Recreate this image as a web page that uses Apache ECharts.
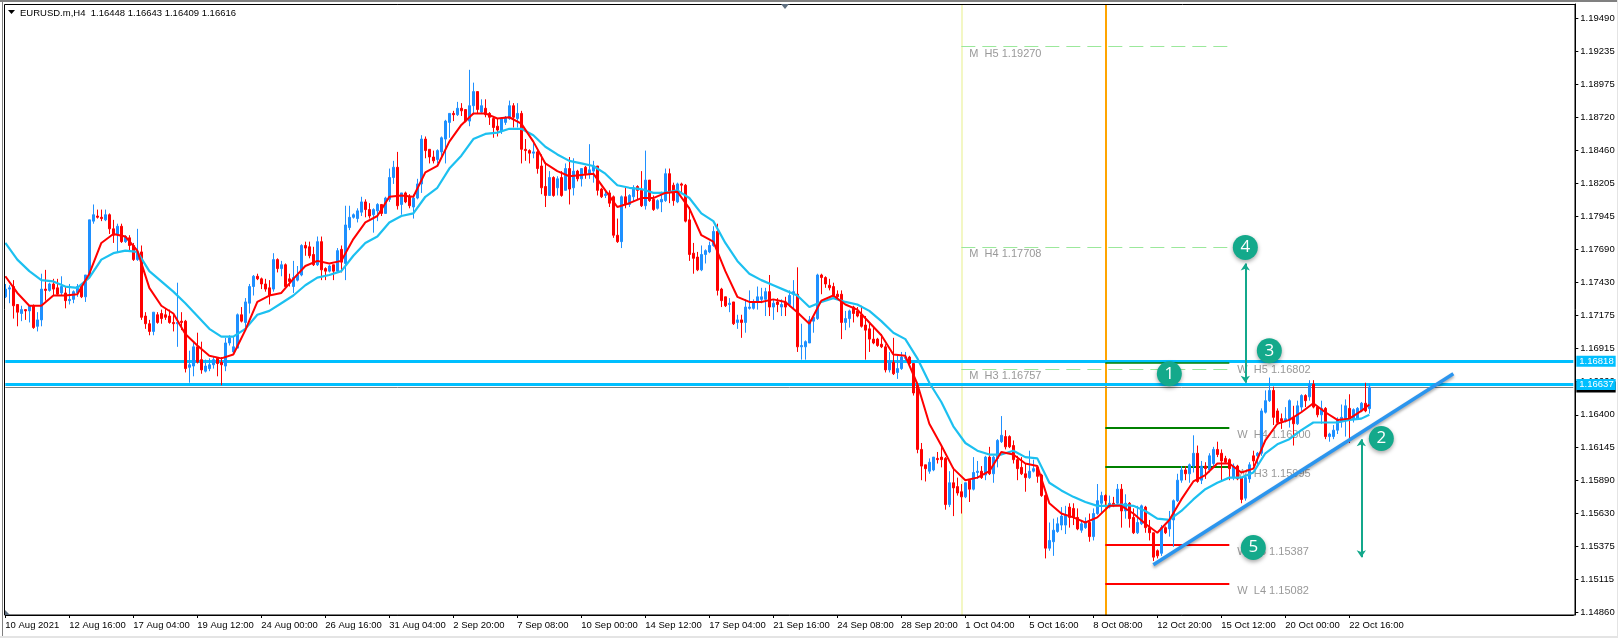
<!DOCTYPE html>
<html><head><meta charset="utf-8">
<style>html,body{margin:0;padding:0;background:#fff}#c{width:1618px;height:638px}</style>
<script src="https://cdn.jsdelivr.net/npm/echarts@6/dist/echarts.min.js"></script>
</head><body><div id="c"></div>
<script>
const opens=[1.1732,1.1738,1.1740,1.1726,1.1719,1.1722,1.1721,1.1725,1.1709,1.1714,
1.1738,1.1737,1.1742,1.1739,1.1735,1.1735,1.1729,1.1730,1.1735,1.1741,
1.1732,1.1749,1.1791,1.1795,1.1794,1.1792,1.1796,1.1785,1.1781,1.1787,
1.1775,1.1778,1.1772,1.1761,1.1767,1.1717,1.1711,1.1705,1.1718,1.1719,
1.1718,1.1717,1.1712,1.1711,1.1713,1.1713,1.1677,1.1678,1.1693,1.1683,
1.1674,1.1676,1.1679,1.1684,1.1681,1.1678,1.1696,1.1689,1.1692,1.1718,
1.1712,1.1727,1.1740,1.1748,1.1746,1.1742,1.1739,1.1738,1.1761,1.1754,
1.1757,1.1746,1.1740,1.1745,1.1749,1.1772,1.1771,1.1765,1.1757,1.1775,
1.1754,1.1752,1.1757,1.1752,1.1769,1.1758,1.1786,1.1794,1.1793,1.1798,
1.1806,1.1800,1.1796,1.1799,1.1804,1.1797,1.1808,1.1825,1.1833,1.1804,
1.1813,1.1810,1.1802,1.1809,1.1820,1.1855,1.1847,1.1841,1.1839,1.1845,
1.1855,1.1868,1.1875,1.1874,1.1879,1.1878,1.1869,1.1881,1.1892,1.1876,
1.1879,1.1875,1.1871,1.1865,1.1861,1.1868,1.1871,1.1881,1.1871,1.1875,
1.1847,1.1846,1.1844,1.1845,1.1834,1.1818,1.1811,1.1825,1.1817,1.1825,
1.1815,1.1832,1.1817,1.1830,1.1824,1.1833,1.1828,1.1830,1.1834,1.1816,
1.1811,1.1813,1.1810,1.1780,1.1775,1.1810,1.1804,1.1810,1.1818,1.1815,
1.1803,1.1823,1.1808,1.1801,1.1806,1.1807,1.1828,1.1819,1.1806,1.1820,
1.1819,1.1792,1.1766,1.1763,1.1753,1.1765,1.1767,1.1772,1.1783,1.1738,
1.1732,1.1726,1.1728,1.1712,1.1714,1.1712,1.1723,1.1723,1.1728,1.1730,
1.1730,1.1736,1.1724,1.1728,1.1724,1.1728,1.1726,1.1734,1.1734,1.1693,
1.1693,1.1696,1.1713,1.1715,1.1749,1.1747,1.1741,1.1740,1.1734,1.1734,
1.1712,1.1715,1.1724,1.1721,1.1718,1.1710,1.1707,1.1699,1.1699,1.1695,
1.1693,1.1675,1.1681,1.1673,1.1676,1.1684,1.1685,1.1680,1.1663,1.1613,
1.1601,1.1596,1.1597,1.1606,1.1607,1.1606,1.1570,1.1587,1.1584,1.1580,
1.1576,1.1589,1.1582,1.1595,1.1596,1.1593,1.1607,1.1594,1.1606,1.1619,
1.1623,1.1623,1.1616,1.1605,1.1599,1.1594,1.1591,1.1596,1.1599,1.1593,
1.1577,1.1536,1.1541,1.1549,1.1554,1.1554,1.1568,1.1567,1.1560,1.1550,
1.1552,1.1556,1.1545,1.1563,1.1571,1.1577,1.1568,1.1571,1.1571,1.1582,
1.1565,1.1571,1.1560,1.1548,1.1555,1.1568,1.1552,1.1548,1.1534,1.1532,
1.1552,1.1551,1.1558,1.1573,1.1589,1.1597,1.1594,1.1600,1.1610,1.1589,
1.1600,1.1597,1.1602,1.1613,1.1610,1.1606,1.1605,1.1591,1.1600,1.1591,
1.1575,1.1590,1.1608,1.1608,1.1610,1.1642,1.1651,1.1659,1.1643,1.1637,
1.1635,1.1636,1.1638,1.1633,1.1646,1.1655,1.1654,1.1664,1.1646,1.1640,
1.1645,1.1623,1.1623,1.1628,1.1635,1.1637,1.1645,1.1637,1.1637,1.1643,
1.1649,1.16448];
const closes=[1.1738,1.1739,1.1725,1.1720,1.1722,1.1721,1.1725,1.1708,1.1714,1.1738,
1.1737,1.1742,1.1738,1.1734,1.1740,1.1729,1.1730,1.1736,1.1740,1.1732,
1.1749,1.1792,1.1796,1.1794,1.1793,1.1796,1.1785,1.1780,1.1787,1.1775,
1.1779,1.1772,1.1761,1.1767,1.1716,1.1711,1.1705,1.1720,1.1712,1.1715,
1.1716,1.1712,1.1711,1.1712,1.1712,1.1676,1.1679,1.1693,1.1681,1.1675,
1.1678,1.1679,1.1683,1.1680,1.1679,1.1696,1.1700,1.1693,1.1718,1.1713,
1.1728,1.1740,1.1748,1.1746,1.1742,1.1738,1.1733,1.1761,1.1754,1.1757,
1.1740,1.1744,1.1747,1.1749,1.1772,1.1770,1.1764,1.1757,1.1775,1.1753,
1.1752,1.1756,1.1752,1.1768,1.1759,1.1788,1.1794,1.1796,1.1799,1.1806,
1.1800,1.1795,1.1800,1.1804,1.1797,1.1809,1.1825,1.1833,1.1803,1.1813,
1.1806,1.1803,1.1809,1.1820,1.1855,1.1846,1.1841,1.1838,1.1846,1.1856,
1.1869,1.1875,1.1874,1.1879,1.1877,1.1869,1.1881,1.1892,1.1878,1.1881,
1.1874,1.1872,1.1864,1.1862,1.1871,1.1872,1.1881,1.1872,1.1875,1.1847,
1.1846,1.1844,1.1845,1.1832,1.1817,1.1811,1.1825,1.1811,1.1824,1.1811,
1.1832,1.1816,1.1830,1.1824,1.1832,1.1828,1.1831,1.1834,1.1815,1.1810,
1.1812,1.1805,1.1780,1.1775,1.1810,1.1804,1.1811,1.1817,1.1815,1.1803,
1.1823,1.1807,1.1800,1.1807,1.1808,1.1828,1.1814,1.1807,1.1820,1.1819,
1.1791,1.1765,1.1762,1.1753,1.1765,1.1768,1.1772,1.1783,1.1737,1.1729,
1.1725,1.1727,1.1711,1.1714,1.1712,1.1724,1.1724,1.1728,1.1732,1.1732,
1.1736,1.1724,1.1727,1.1726,1.1726,1.1724,1.1733,1.1736,1.1693,1.1694,
1.1697,1.1714,1.1716,1.1749,1.1747,1.1742,1.1739,1.1733,1.1732,1.1712,
1.1715,1.1721,1.1719,1.1717,1.1709,1.1706,1.1699,1.1696,1.1694,1.1693,
1.1675,1.1682,1.1672,1.1676,1.1685,1.1685,1.1680,1.1657,1.1613,1.1600,
1.1598,1.1603,1.1607,1.1605,1.1605,1.1570,1.1587,1.1583,1.1579,1.1576,
1.1587,1.1582,1.1595,1.1596,1.1591,1.1607,1.1594,1.1607,1.1620,1.1624,
1.1615,1.1615,1.1605,1.1598,1.1594,1.1591,1.1596,1.1598,1.1592,1.1577,
1.1536,1.1542,1.1550,1.1555,1.1561,1.1562,1.1560,1.1560,1.1551,1.1555,
1.1556,1.1545,1.1563,1.1573,1.1577,1.1573,1.1571,1.1569,1.1582,1.1565,
1.1571,1.1559,1.1548,1.1556,1.1569,1.1552,1.1548,1.1529,1.1530,1.1552,
1.1548,1.1558,1.1573,1.1589,1.1597,1.1594,1.1601,1.1610,1.1588,1.1600,
1.1598,1.1608,1.1613,1.1609,1.1604,1.1603,1.1598,1.1600,1.1590,1.1574,
1.1591,1.1601,1.1604,1.1610,1.1643,1.1651,1.1659,1.1638,1.1634,1.1635,
1.1637,1.1651,1.1633,1.1647,1.1655,1.1651,1.1664,1.1646,1.1640,1.1645,
1.1623,1.1625,1.1628,1.1636,1.1638,1.1647,1.1636,1.1644,1.1645,1.1649,
1.1643,1.16616];
const highs=[1.1742,1.1741,1.1745,1.1726,1.1725,1.1722,1.1725,1.1726,1.1720,1.1750,
1.1753,1.1743,1.1746,1.1746,1.1748,1.1740,1.1742,1.1737,1.1742,1.1741,
1.1749,1.1792,1.1804,1.1800,1.1800,1.1800,1.1797,1.1792,1.1789,1.1789,
1.1780,1.1780,1.1774,1.1785,1.1772,1.1720,1.1714,1.1720,1.1720,1.1722,
1.1723,1.1722,1.1719,1.1743,1.1720,1.1714,1.1690,1.1696,1.1704,1.1697,
1.1683,1.1684,1.1685,1.1685,1.1685,1.1700,1.1702,1.1701,1.1719,1.1724,
1.1731,1.1742,1.1749,1.1750,1.1747,1.1746,1.1745,1.1766,1.1762,1.1760,
1.1758,1.1750,1.1760,1.1756,1.1773,1.1775,1.1775,1.1771,1.1779,1.1779,
1.1755,1.1757,1.1757,1.1770,1.1772,1.1803,1.1803,1.1797,1.1801,1.1810,
1.1808,1.1805,1.1801,1.1805,1.1804,1.1810,1.1832,1.1838,1.1845,1.1813,
1.1814,1.1812,1.1812,1.1824,1.1858,1.1857,1.1847,1.1846,1.1847,1.1857,
1.1870,1.1875,1.1877,1.1884,1.1883,1.1878,1.1909,1.1899,1.1892,1.1886,
1.1886,1.1876,1.1873,1.1871,1.1872,1.1873,1.1885,1.1883,1.1883,1.1877,
1.1855,1.1847,1.1852,1.1847,1.1843,1.1837,1.1830,1.1826,1.1826,1.1830,
1.1836,1.1841,1.1840,1.1831,1.1832,1.1834,1.1851,1.1838,1.1834,1.1817,
1.1815,1.1815,1.1811,1.1793,1.1811,1.1817,1.1812,1.1819,1.1819,1.1830,
1.1846,1.1823,1.1811,1.1808,1.1814,1.1832,1.1832,1.1821,1.1821,1.1821,
1.1820,1.1802,1.1774,1.1767,1.1772,1.1769,1.1775,1.1787,1.1789,1.1739,
1.1732,1.1731,1.1728,1.1718,1.1718,1.1730,1.1737,1.1730,1.1740,1.1739,
1.1739,1.1749,1.1730,1.1731,1.1730,1.1732,1.1737,1.1745,1.1755,1.1711,
1.1698,1.1717,1.1717,1.1750,1.1750,1.1748,1.1746,1.1743,1.1737,1.1737,
1.1721,1.1722,1.1725,1.1724,1.1725,1.1717,1.1711,1.1708,1.1700,1.1703,
1.1695,1.1689,1.1700,1.1687,1.1689,1.1689,1.1686,1.1680,1.1664,1.1618,
1.1601,1.1606,1.1607,1.1611,1.1615,1.1607,1.1596,1.1599,1.1591,1.1586,
1.1587,1.1589,1.1607,1.1604,1.1600,1.1608,1.1615,1.1608,1.1621,1.1639,
1.1628,1.1624,1.1620,1.1608,1.1607,1.1602,1.1612,1.1605,1.1600,1.1594,
1.1578,1.1556,1.1559,1.1560,1.1568,1.1569,1.1571,1.1571,1.1567,1.1558,
1.1560,1.1563,1.1567,1.1586,1.1580,1.1578,1.1577,1.1576,1.1586,1.1586,
1.1578,1.1572,1.1567,1.1569,1.1570,1.1569,1.1558,1.1548,1.1535,1.1554,
1.1553,1.1565,1.1574,1.1594,1.1600,1.1600,1.1602,1.1624,1.1616,1.1604,
1.1603,1.1610,1.1615,1.1619,1.1613,1.1608,1.1606,1.1602,1.1601,1.1591,
1.1592,1.1603,1.1612,1.1611,1.1645,1.1659,1.1669,1.1662,1.1645,1.1641,
1.1646,1.1652,1.1647,1.1651,1.1656,1.1656,1.1667,1.1667,1.1647,1.1651,
1.1646,1.1626,1.1632,1.1638,1.1648,1.1652,1.1656,1.1645,1.1646,1.1650,
1.1665,1.16643];
const lows=[1.1731,1.1727,1.1715,1.1709,1.1713,1.1714,1.1712,1.1707,1.1705,1.1709,
1.1729,1.1736,1.1733,1.1733,1.1733,1.1723,1.1726,1.1727,1.1732,1.1731,
1.1728,1.1748,1.1789,1.1793,1.1791,1.1791,1.1781,1.1774,1.1767,1.1774,
1.1774,1.1768,1.1760,1.1760,1.1714,1.1707,1.1702,1.1702,1.1711,1.1711,
1.1714,1.1711,1.1705,1.1693,1.1706,1.1673,1.1665,1.1670,1.1680,1.1672,
1.1673,1.1674,1.1676,1.1670,1.1663,1.1674,1.1694,1.1688,1.1692,1.1712,
1.1706,1.1719,1.1733,1.1745,1.1738,1.1736,1.1726,1.1736,1.1751,1.1748,
1.1738,1.1740,1.1735,1.1744,1.1748,1.1764,1.1762,1.1756,1.1756,1.1745,
1.1745,1.1751,1.1745,1.1751,1.1751,1.1745,1.1784,1.1793,1.1790,1.1795,
1.1794,1.1793,1.1782,1.1791,1.1795,1.1797,1.1806,1.1820,1.1800,1.1796,
1.1805,1.1801,1.1793,1.1808,1.1813,1.1840,1.1836,1.1836,1.1836,1.1840,
1.1836,1.1856,1.1869,1.1873,1.1873,1.1868,1.1865,1.1874,1.1875,1.1875,
1.1872,1.1866,1.1856,1.1857,1.1859,1.1866,1.1870,1.1864,1.1864,1.1836,
1.1838,1.1836,1.1840,1.1828,1.1812,1.1802,1.1811,1.1810,1.1811,1.1810,
1.1815,1.1804,1.1811,1.1822,1.1818,1.1824,1.1824,1.1821,1.1811,1.1809,
1.1809,1.1802,1.1778,1.1774,1.1770,1.1801,1.1802,1.1806,1.1808,1.1802,
1.1800,1.1806,1.1799,1.1800,1.1798,1.1806,1.1805,1.1803,1.1805,1.1812,
1.1790,1.1760,1.1750,1.1752,1.1752,1.1758,1.1766,1.1771,1.1733,1.1724,
1.1724,1.1720,1.1710,1.1707,1.1700,1.1704,1.1722,1.1722,1.1722,1.1727,
1.1717,1.1717,1.1714,1.1720,1.1717,1.1717,1.1724,1.1723,1.1689,1.1683,
1.1683,1.1696,1.1704,1.1714,1.1734,1.1739,1.1737,1.1732,1.1730,1.1699,
1.1706,1.1708,1.1712,1.1716,1.1708,1.1683,1.1689,1.1695,1.1693,1.1692,
1.1673,1.1673,1.1671,1.1668,1.1675,1.1682,1.1678,1.1655,1.1610,1.1589,
1.1588,1.1594,1.1596,1.1602,1.1599,1.1566,1.1568,1.1561,1.1577,1.1563,
1.1575,1.1572,1.1581,1.1590,1.1590,1.1589,1.1593,1.1587,1.1599,1.1618,
1.1613,1.1614,1.1602,1.1589,1.1593,1.1580,1.1590,1.1595,1.1587,1.1576,
1.1528,1.1534,1.1530,1.1548,1.1550,1.1547,1.1552,1.1554,1.1550,1.1548,
1.1551,1.1541,1.1542,1.1562,1.1563,1.1568,1.1567,1.1568,1.1569,1.1552,
1.1559,1.1552,1.1547,1.1547,1.1554,1.1548,1.1542,1.1526,1.1528,1.1530,
1.1547,1.1545,1.1537,1.1572,1.1587,1.1589,1.1587,1.1595,1.1587,1.1586,
1.1590,1.1595,1.1600,1.1607,1.1589,1.1602,1.1589,1.1589,1.1589,1.1571,
1.1573,1.1587,1.1600,1.1601,1.1608,1.1641,1.1650,1.1632,1.1632,1.1629,
1.1634,1.1630,1.1616,1.1632,1.1643,1.1646,1.1651,1.1645,1.1638,1.1633,
1.1621,1.1619,1.1621,1.1625,1.1630,1.1623,1.1618,1.1634,1.1636,1.1642,
1.1642,1.16409];
// moving averages, read every third bar (the last sample is the last bar)
const fastMA=[1.1748,1.1735,1.1725,1.1725,1.1733,1.1733,1.1734,1.1750,1.1774,1.1781,1.1779,1.1768,1.1739,1.1725,1.1719,1.1703,1.1694,1.1686,1.1684,1.1687,1.1706,1.1728,1.1733,
1.1735,1.1746,1.1756,1.1760,1.1758,1.1760,1.1777,1.1790,1.1795,1.1810,1.1811,1.1810,1.1829,1.1834,1.1853,1.1866,1.1875,1.1875,1.1871,1.1872,
1.1867,1.1853,1.1836,1.1830,1.1826,1.1827,1.1828,1.1815,1.1802,1.1805,1.1809,1.1809,1.1813,1.1814,1.1801,1.1780,1.1775,1.1752,1.1732,1.1728,1.1728,1.1730,
1.1728,1.1720,1.1711,1.1729,1.1733,1.1726,1.1722,1.1712,1.1702,1.1687,1.1686,1.1664,1.1633,1.1616,1.1598,1.1589,1.1591,1.1596,1.1611,1.1609,1.1602,
1.1600,1.1571,1.1563,1.1560,1.1556,1.1560,1.1569,1.1569,1.1563,1.1555,1.1548,1.1558,1.1574,1.1588,1.1593,1.1602,1.1602,1.1595,1.1598,1.1620,1.1633,1.1636,1.1642,1.1649,1.1642,1.1636,1.1637,1.1643,1.1648];
const slowMA=[1.1774,1.1761,1.1752,1.1745,1.1744,1.1740,1.1739,1.1747,1.1761,1.1766,1.1768,1.1767,1.1752,1.1744,1.1736,1.1727,1.1717,1.1707,1.1701,1.1701,1.1707,1.1718,1.1721,
1.1727,1.1733,1.1741,1.1747,1.1749,1.1752,1.1764,1.1774,1.1779,1.1790,1.1795,1.1797,1.1810,1.1817,1.1832,1.1842,1.1855,1.1859,1.1860,1.1863,
1.1863,1.1858,1.1849,1.1843,1.1838,1.1836,1.1834,1.1828,1.1819,1.1817,1.1816,1.1813,1.1813,1.1815,1.1809,1.1797,1.1791,1.1774,1.1760,1.1750,1.1745,1.1741,
1.1737,1.1733,1.1724,1.1728,1.1731,1.1728,1.1726,1.1721,1.1713,1.1704,1.1699,1.1684,1.1665,1.1650,1.1631,1.1618,1.1612,1.1609,1.1609,1.1612,1.1607,
1.1606,1.1587,1.1581,1.1576,1.1572,1.1569,1.1569,1.1570,1.1569,1.1565,1.1559,1.1558,1.1565,1.1574,1.1582,1.1587,1.1591,1.1591,1.1595,1.1610,1.1617,1.1621,1.1628,1.1634,1.1634,1.1634,1.1636,1.1637,1.1640];
const tickLabels=['10 Aug 2021','12 Aug 16:00','17 Aug 04:00','19 Aug 12:00','24 Aug 00:00','26 Aug 16:00','31 Aug 04:00','2 Sep 20:00','7 Sep 08:00','10 Sep 00:00','14 Sep 12:00','17 Sep 04:00','21 Sep 16:00','24 Sep 08:00','28 Sep 20:00','1 Oct 04:00','5 Oct 16:00','8 Oct 08:00','12 Oct 20:00','15 Oct 12:00','20 Oct 00:00','22 Oct 16:00'];
const priceTicks=[1.19490,1.19235,1.18975,1.18720,1.18460,1.18205,1.17945,1.17690,1.17430,1.17175,1.16915,1.16660,1.16400,1.16145,1.15890,1.15630,1.15375,1.15115,1.14860];
const priceMin=1.148388, priceMax=1.196031;
const monthlyLevels=[['M  H5',1.19270],['M  H4',1.17708],['M  H3',1.16757]];
const weeklyGreen=[['W  H5',1.16802],['W  H4',1.16300],['W  H3',1.15995]];
const weeklyRed=[['W  L3',1.15387],['W  L4',1.15082]];
const monthStartBar=239, weekStartBar=275, levelEndBar=306, monthTextBar=241, weekTextBar=308;
const cyanLevels=[1.16818,1.16637];
const lastPrice=1.16616;
const trendLine=[[287,1.1523],[362,1.1672]];
const arrows=[[310,1.1758,1.1665],[339,1.1621,1.1529]];
const badges=[['1',291,1.1672],['2',344,1.16215],['3',316,1.1690],['4',310,1.17705],['5',312,1.15365]];
const headerText='EURUSD.m,H4  1.16448 1.16643 1.16409 1.16616';

const FONT='"Liberation Sans"';
const TOTAL=393, lastBar=opens.length-1;
const categories=Array.from({length:TOTAL},(_,i)=>(i%16===0&&tickLabels[i/16])||'');
const candles=opens.map((o,i)=>[o,closes[i],lows[i],highs[i]]);
const maPts=a=>a.map((v,k)=>[Math.min(k*3,lastBar),v]);
const seg=(a,b,ls)=>[{coord:[a[0],a[1]],lineStyle:ls},{coord:[b[0],b[1]]}];
const levelLines=[];
monthlyLevels.forEach(l=>levelLines.push(seg([monthStartBar,l[1]],[levelEndBar,l[1]],{color:'#9be89b',width:1,type:[14,7]})));
weeklyGreen.forEach((l,i)=>levelLines.push(seg([weekStartBar,l[1]],[levelEndBar,l[1]],{color:'#008000',width:i?2:1.5,type:'solid'})));
weeklyRed.forEach(l=>levelLines.push(seg([weekStartBar,l[1]],[levelEndBar,l[1]],{color:'#ff0000',width:2,type:'solid'})));
const tag=(bg,fg)=>({show:true,position:'end',distance:3,formatter:p=>Number(p.value).toFixed(5),color:fg,backgroundColor:bg,fontFamily:FONT,fontSize:9.5,padding:[1,2,1,3],lineHeight:9});
const option={
 animation:false,backgroundColor:'#fff',
 title:{text:headerText,left:20,top:8,padding:0,textStyle:{fontFamily:FONT,fontSize:9.5,fontWeight:'normal',color:'#000'}},
 grid:{left:5.33,top:4,width:1568,height:611},
 xAxis:{type:'category',data:categories,boundaryGap:false,
  axisLine:{lineStyle:{color:'#000',width:1}},
  axisTick:{length:3,lineStyle:{color:'#000'},interval:(i)=>i%16===0&&i<=336},
  axisLabel:{interval:(i)=>i%16===0&&i<=336,align:'left',margin:5,color:'#000',fontFamily:FONT,fontSize:9.5,hideOverlap:false},
  splitLine:{show:false}},
 yAxis:{type:'value',position:'right',offset:2,min:priceMin,max:priceMax,scale:true,
  axisLine:{show:true,lineStyle:{color:'#000',width:1}},
  axisTick:{show:true,length:3,customValues:priceTicks,lineStyle:{color:'#000'}},
  axisLabel:{customValues:priceTicks,margin:5,color:'#000',fontFamily:FONT,fontSize:9.5,formatter:v=>v.toFixed(5)},
  splitLine:{show:false}},
 series:[
  {type:'line',name:'levels',data:[],z:1,silent:true,
   markLine:{silent:true,animation:false,symbol:'none',precision:5,z:1,label:{show:false},data:[
    {xAxis:monthStartBar,lineStyle:{color:'#f3f7c4',width:2,type:'solid'}},
    {xAxis:weekStartBar,lineStyle:{color:'#ffa500',width:2,type:'solid'}},
    {yAxis:lastPrice,lineStyle:{color:'#808080',width:1,type:'solid'},label:tag('#000','#000')},
    ...cyanLevels.map(v=>({yAxis:v,lineStyle:{color:'#00bfff',width:3,type:'solid'},label:tag('#00bfff','#fff')})),
    ...levelLines]}},
  {type:'scatter',name:'levelText',z:1,symbolSize:0,silent:true,
   data:[...monthlyLevels.map(l=>[monthTextBar,l[1],l[0]+' '+l[1].toFixed(5)]),
         ...weeklyGreen.concat(weeklyRed).map(l=>[weekTextBar,l[1],l[0]+' '+l[1].toFixed(5)])],
   label:{show:true,position:'right',distance:0,offset:[0,7],formatter:p=>p.data[2],color:'#808080',fontFamily:FONT,fontSize:11}},
  {type:'candlestick',name:'EURUSD.m',data:candles,z:2,barWidth:2.4,silent:true,
   itemStyle:{color:'#1e90ff',color0:'#ff0000',borderColor:'#1e90ff',borderColor0:'#ff0000',borderWidth:1}},
  {type:'line',name:'slow',data:maPts(slowMA),z:3,symbol:'none',silent:true,lineStyle:{color:'#1cc0f0',width:2.2}},
  {type:'line',name:'fast',data:maPts(fastMA),z:3,symbol:'none',silent:true,lineStyle:{color:'#ff0000',width:2}},
  {type:'line',name:'drawings',data:[],z:4,silent:true,
   markLine:{silent:true,animation:false,symbol:'none',precision:5,z:4,label:{show:false},data:[
    seg(trendLine[0],trendLine[1],{color:'#2b95ee',width:3.5,type:'solid',shadowColor:'rgba(0,0,0,.35)',shadowBlur:3,shadowOffsetY:2}),
    ...arrows.map(a=>[
     {coord:[a[0],a[1]],symbol:'arrow',symbolSize:7,lineStyle:{color:'#13a88b',width:2,type:'solid'}},
     {coord:[a[0],a[2]],symbol:'arrow',symbolSize:7}])]}},
  {type:'scatter',name:'badges',z:5,symbolSize:25,silent:true,
   data:badges.map(b=>[b[1],b[2],b[0]]),
   itemStyle:{color:'#14a98b',shadowColor:'rgba(0,0,0,.35)',shadowBlur:4,shadowOffsetY:2,opacity:1},
   label:{show:true,position:'inside',formatter:p=>p.data[2],color:'#fff',fontFamily:'"Open Sans"',fontSize:17}}
 ],
 graphic:[
  {type:'rect',silent:true,z:20,shape:{x:4.5,y:4.5,width:1570.5,height:610.5},style:{fill:'none',stroke:'#000',lineWidth:1}},
  {type:'polygon',silent:true,z:20,shape:{points:[[8,10],[15,10],[11.5,14]]},style:{fill:'#000'}},
  {type:'polygon',silent:true,z:20,shape:{points:[[781,4],[789,4],[785,9]]},style:{fill:'#5f6f80'}},
  {type:'polygon',silent:true,z:20,shape:{points:[[5,610],[5,615],[10,615]]},style:{fill:'#5f6f80'}},
  {type:'rect',silent:true,z:20,shape:{x:0,y:0,width:1618,height:2},style:{fill:'#808080'}},
  {type:'rect',silent:true,z:20,shape:{x:2,y:0,width:1,height:638},style:{fill:'#808080'}},
  {type:'rect',silent:true,z:20,shape:{x:0,y:636,width:1618,height:2},style:{fill:'#e4e4e4'}},
  {type:'rect',silent:true,z:20,shape:{x:1617,y:0,width:1,height:638},style:{fill:'#e4e4e4'}}
 ]
};
const chart=echarts.init(document.getElementById('c'),null,{renderer:'canvas'});
chart.setOption(option);
</script></body></html>
